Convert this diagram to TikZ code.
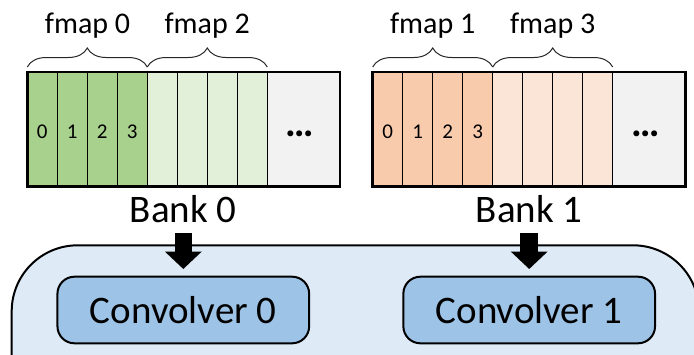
\documentclass[tikz,border=0pt]{standalone}
\usepackage{fontspec}
\setmainfont{Carlito}
\usetikzlibrary{arrows.meta,decorations.pathreplacing,fit}
\definecolor{gdark}{HTML}{A9D18E}
\definecolor{glight}{HTML}{E2F0D9}
\definecolor{odark}{HTML}{F8CBAD}
\definecolor{olight}{HTML}{FBE5D6}
\definecolor{restgray}{HTML}{F2F2F2}
\definecolor{enginebg}{HTML}{DEEBF7}
\definecolor{convfill}{HTML}{9DC3E6}
\tikzset{
  cellbox/.style={draw=black, line width=1.2pt, minimum width=30pt, minimum height=114.5pt,
    inner sep=0pt, outer sep=0pt, anchor=north west},
  restbox/.style={cellbox, fill=restgray, minimum width=72.5pt},
  bankframe/.style={draw=black, line width=2.6pt, inner sep=0pt, outer sep=0pt},
  digit/.style={font=\fontsize{21}{21}\selectfont, inner sep=0pt, anchor=base},
  dots/.style={font=\fontsize{40}{40}\selectfont\bfseries, inner sep=0pt, anchor=base},
  fmaplbl/.style={font=\fontsize{30}{30}\selectfont, inner sep=0pt, anchor=base},
  banklbl/.style={font=\fontsize{39}{39}\selectfont, inner sep=0pt, anchor=base},
  bracestyle/.style={draw=black!85, line width=1pt, decorate,
    decoration={brace, amplitude=19pt}},
  convbox/.style={draw=black, line width=2pt, fill=convfill, rounded corners=17pt,
    minimum width=251.7pt, minimum height=66.6pt, inner sep=0pt,
    font=\fontsize{39}{39}\selectfont},
  blockarrow/.style={line width=17.5pt, -{Triangle[width=36pt,length=17.5pt]}},
}
\begin{document}
\begin{tikzpicture}[x=1pt,y=-1pt]
\useasboundingbox (0,0) rectangle (694,354);
\clip (0,0) rectangle (694,354);

% processing engine panel (runs past the right and bottom edges)
\draw[fill=enginebg, line width=2pt, rounded corners=66pt] (11.7,245.3) rectangle (699,430);

% memory banks: four dark cells (fmap 0/1), four light cells (fmap 2/3), remainder
\foreach \b/\xo/\dk/\lt in {0/27.3/gdark/glight, 1/372.7/odark/olight}{
  \foreach \i in {0,...,3}{
    \node[cellbox, fill=\dk] (b\b c\i) at (\xo+30*\i, 72) {};
    \node[digit] at (\xo+15+30*\i, 138.5) {\i};
  }
  \foreach \i in {4,...,7}{
    \node[cellbox, fill=\lt] (b\b c\i) at (\xo+30*\i, 72) {};
  }
  \node[restbox] (b\b g) at (\xo+240, 72) {};
  \node[dots] at (\xo+272.7, 136) {…};
  \node[bankframe, fit=(b\b c0)(b\b g)] (bank\b) {};
  % braces over each feature map
  \draw[bracestyle] ([yshift=5pt]b\b c0.north west) -- ([yshift=5pt]b\b c3.north east);
  \draw[bracestyle] ([yshift=5pt]b\b c4.north west) -- ([yshift=5pt]b\b c7.north east);
}

\node[fmaplbl] (f0) at (87.5,33) {fmap 0};
\node[fmaplbl] (f2) at (207.2,33) {fmap 2};
\node[fmaplbl] (f1) at (432.7,33) {fmap 1};
\node[fmaplbl] (f3) at (552.7,33) {fmap 3};

\node[banklbl] (lbl0) at (183.3,222) {Bank 0};
\node[banklbl] (lbl1) at (529.2,222) {Bank 1};

\node[convbox] (conv0) at (183.3,310) {Convolver 0};
\node[convbox] (conv1) at (529.2,310) {Convolver 1};

\draw[blockarrow, shorten <=10.7pt, shorten >=6.7pt] (lbl0.south) -- (conv0.north);
\draw[blockarrow, shorten <=10.7pt, shorten >=6.7pt] (lbl1.south) -- (conv1.north);
\end{tikzpicture}
\end{document}
